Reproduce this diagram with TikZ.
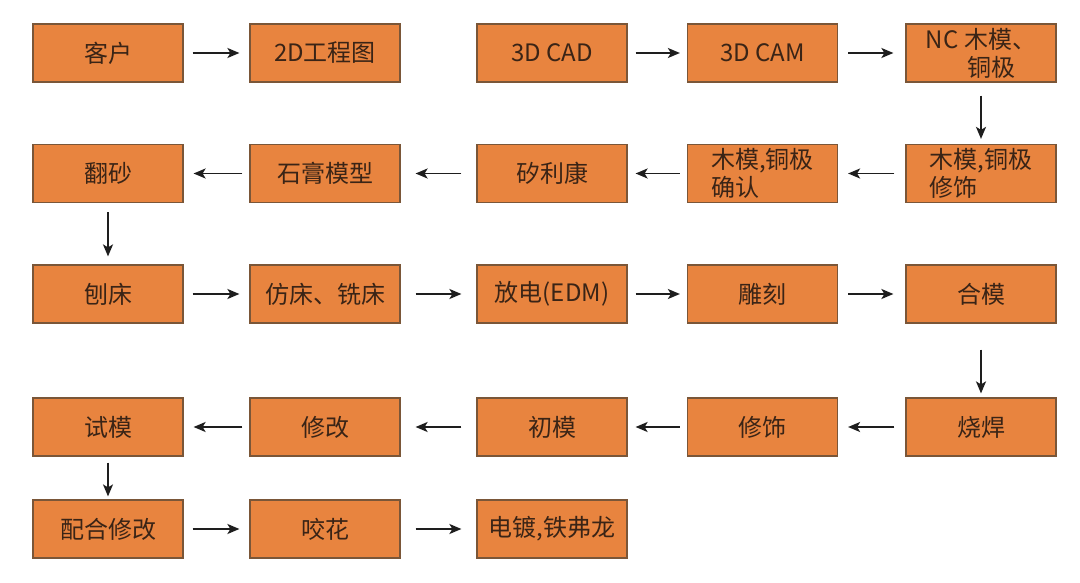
\documentclass[tikz,border=0pt]{standalone}
\usepackage{fontspec}
\setmainfont{Noto Sans CJK SC}
\usetikzlibrary{arrows.meta}
\definecolor{boxfill}{HTML}{E8843F}
\definecolor{boxline}{HTML}{7A5638}
\definecolor{txt}{HTML}{3A2416}
\definecolor{arrcol}{HTML}{1E1E1E}
\begin{document}
\begin{tikzpicture}[x=1pt,y=-1pt,
  box/.style={draw=boxline, fill=boxfill, line width=1.2pt, minimum width=150pt, minimum height=58pt, inner sep=0pt, text=txt, font=\fontsize{24}{28}\selectfont},
  arr/.style={draw=arrcol, line width=1.8pt, -{Stealth[length=12pt,width=10pt,inset=3pt]}},
  ga/.style={shorten <=9pt, shorten >=10pt},
  gb/.style={shorten <=15pt, shorten >=15pt},
  gc/.style={shorten <=8pt, shorten >=7pt},
  gd/.style={shorten <=10pt, shorten >=12pt},
  gbl/.style={shorten <=15pt, shorten >=15pt},
  gcl/.style={shorten <=7pt, shorten >=8pt},
  gdl/.style={shorten <=11pt, shorten >=10pt},
  gal/.style={shorten <=7pt, shorten >=10pt}]
\useasboundingbox[fill=white] (0,0) rectangle (1080,583);
% row 1
\node[box] (a11) at (108,53) {客户};
\node[box] (a12) at (325,53) {2D工程图};
\node[box] (a13) at (552,53) {3D CAD};
\node[box] (a14) at (762.5,53) {3D CAM};
\node[box, align=center] (a15) at (981,53) {NC 木模、\\\hspace*{0.9em}铜极};
% row 2
\node[box] (a21) at (108,173.5) {翻砂};
\node[box] (a22) at (325,173.5) {石膏模型};
\node[box] (a23) at (552,173.5) {矽利康};
\node[box, align=left] (a24) at (762.5,173.5) {木模,铜极\\确认};
\node[box, align=left] (a25) at (981,173.5) {木模,铜极\\修饰};
% row 3
\node[box] (a31) at (108,294) {刨床};
\node[box] (a32) at (325,294) {仿床、铣床};
\node[box] (a33) at (552,294) {放电(EDM)};
\node[box] (a34) at (762.5,294) {雕刻};
\node[box] (a35) at (981,294) {合模};
% row 4
\node[box] (a41) at (108,427) {试模};
\node[box] (a42) at (325,427) {修改};
\node[box] (a43) at (552,427) {初模};
\node[box] (a44) at (762.5,427) {修饰};
\node[box] (a45) at (981,427) {烧焊};
% row 5
\node[box] (a51) at (108,529) {配合修改};
\node[box] (a52) at (325,529) {咬花};
\node[box] (a53) at (552,529) {电镀,铁弗龙};
% arrows row 1
\draw[arr, ga] (a11.east) -- (a12.west);
\draw[arr, gc] (a13.east) -- (a14.west);
\draw[arr, gd] (a14.east) -- (a15.west);
\draw[arr, shorten <=13pt, shorten >=5pt] (a15.south) -- (a25.north);
% row 2
\draw[arr, gdl] (a25.west) -- (a24.east);
\draw[arr, gcl] (a24.west) -- (a23.east);
\draw[arr, gbl] (a23.west) -- (a22.east);
\draw[arr, gal] (a22.west) -- (a21.east);
\draw[arr, shorten <=9pt, shorten >=8pt] (a21.south) -- (a31.north);
% row 3
\draw[arr, ga] (a31.east) -- (a32.west);
\draw[arr, gb] (a32.east) -- (a33.west);
\draw[arr, gc] (a33.east) -- (a34.west);
\draw[arr, gd] (a34.east) -- (a35.west);
\draw[arr, shorten <=26pt, shorten >=4pt] (a35.south) -- (a45.north);
% row 4
\draw[arr, gdl] (a45.west) -- (a44.east);
\draw[arr, gcl] (a44.west) -- (a43.east);
\draw[arr, gbl] (a43.west) -- (a42.east);
\draw[arr, gal] (a42.west) -- (a41.east);
\draw[arr, line width=1.4pt, shorten <=6pt, shorten >=3pt] (a41.south) -- (a51.north);
% row 5
\draw[arr, ga] (a51.east) -- (a52.west);
\draw[arr, gb] (a52.east) -- (a53.west);
\end{tikzpicture}
\end{document}
